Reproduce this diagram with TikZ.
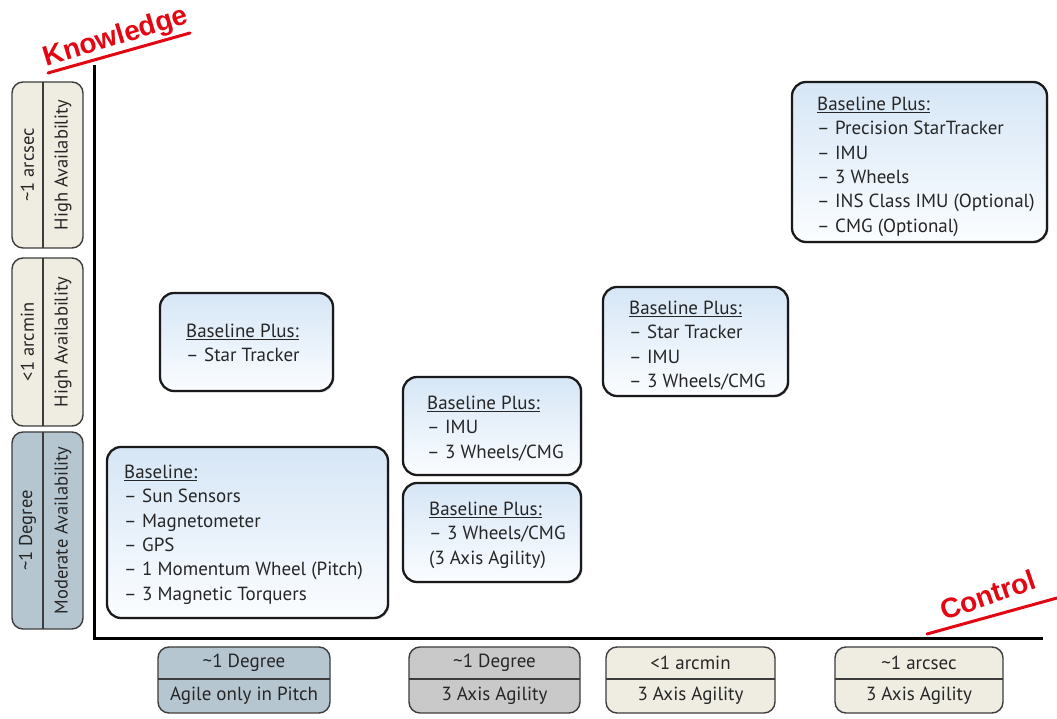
\documentclass[tikz,border=0pt]{standalone}
\usepackage{fontspec}
\setmainfont{PT Sans}
\newfontfamily\redfont{Liberation Sans}
\usetikzlibrary{shadows}
\definecolor{bordc}{HTML}{1A1A1A}
\definecolor{txtc}{HTML}{262626}
\definecolor{beige}{HTML}{EFEDE2}
\definecolor{bluegrey}{HTML}{B6C6D0}
\definecolor{greyfill}{HTML}{C9C9C9}
\definecolor{boxtop}{HTML}{D6E6F6}
\definecolor{boxbot}{HTML}{FBFDFF}
\definecolor{redc}{HTML}{E30613}
\newcommand\itm[1]{\makebox[18pt][l]{–}#1}
\newcommand\hdr[1]{\strut\underline{#1}}
\tikzset{
  axis/.style={line width=3pt, draw=black},
  card/.style={draw=bordc, line width=2.3pt, rounded corners=14pt,
    top color=boxtop, bottom color=boxbot,
    drop shadow={shadow xshift=1.5pt, shadow yshift=-1.5pt, opacity=.25}},
  tag/.style={draw=bordc!85, line width=1.4pt, rounded corners=11pt},
  divider/.style={draw=bordc!85, line width=1.2pt},
  txt/.style={anchor=north west, inner sep=0pt, align=left,
    font=\fontsize{19}{24.4}\selectfont, text=txtc},
  vt/.style={rotate=90, inner sep=0pt, font=\fontsize{18.5}{20}\selectfont, text=txtc},
  ht/.style={inner sep=0pt, font=\fontsize{19}{20}\selectfont, text=txtc},
  redlbl/.style={inner sep=0pt, font=\redfont\bfseries\fontsize{28}{30}\selectfont, text=redc},
  redline/.style={draw=redc, line width=3pt, line cap=round}
}
\begin{document}
\begin{tikzpicture}[x=1pt,y=1pt]
\useasboundingbox (0,0) rectangle (1057,719);
\fill[white] (0,0) rectangle (1057,719);

% axes
\coordinate (origin) at (94,80);
\coordinate (ytop) at (94,654);
\coordinate (xend) at (1043,80);
\draw[axis] (ytop) -- (origin) -- (xend);

% axis labels
\node[redlbl, rotate=17] (know) at (116,681) {Knowledge};
\draw[redline] (48,646) -- (190,686);
\node[redlbl, rotate=19] (ctrl) at (988,124) {Control};
\draw[redline] (927,85) -- (1057,121);

% left tags (knowledge levels)
\draw[tag, fill=beige] (12,637) rectangle (83,471);
\draw[divider] (43,637) -- (43,471);
\node[vt] (l1a) at (27.5,554) {\textasciitilde1 arcsec};
\node[vt] (l1b) at (63,554) {High Availability};

\draw[tag, fill=beige] (12,461) rectangle (83,293);
\draw[divider] (43,461) -- (43,293);
\node[vt] (l2a) at (27.5,377) {<1 arcmin};
\node[vt] (l2b) at (63,377) {High Availability};

\draw[tag, fill=bluegrey] (12,287) rectangle (83,90);
\draw[divider] (43,287) -- (43,90);
\node[vt] (l3a) at (27.5,188.5) {\textasciitilde1 Degree};
\node[vt] (l3b) at (63,188.5) {Moderate Availability};

% bottom tags (control levels)
\draw[tag, fill=bluegrey] (158,72) rectangle (330,6);
\draw[divider] (158,40) -- (330,40);
\node[ht] (b1a) at (244,56) {\textasciitilde1 Degree};
\node[ht] (b1b) at (244,23) {Agile only in Pitch};

\draw[tag, fill=greyfill] (409,72) rectangle (580,6);
\draw[divider] (409,40) -- (580,40);
\node[ht] (b2a) at (494.5,56) {\textasciitilde1 Degree};
\node[ht] (b2b) at (494.5,23) {3 Axis Agility};

\draw[tag, fill=beige] (606,72) rectangle (775,6);
\draw[divider] (606,40) -- (775,40);
\node[ht] (b3a) at (690.5,56) {<1 arcmin};
\node[ht] (b3b) at (690.5,23) {3 Axis Agility};

\draw[tag, fill=beige] (835,72) rectangle (1003,6);
\draw[divider] (835,40) -- (1003,40);
\node[ht] (b4a) at (919,56) {\textasciitilde1 arcsec};
\node[ht] (b4b) at (919,23) {3 Axis Agility};

% cards
\draw[card] (107,272) rectangle (388,101);
\node[txt] (base) at (124,258) {\hdr{Baseline:}\\ \itm{Sun Sensors}\\ \itm{Magnetometer}\\ \itm{GPS}\\ \itm{1 Momentum Wheel (Pitch)}\\ \itm{3 Magnetic Torquers}};

\draw[card] (160,426) rectangle (333,328);
\node[txt] (star) at (186,399) {\hdr{Baseline Plus:}\\ \itm{Star Tracker}};

\draw[card] (403,342) rectangle (581,244);
\node[txt] (imu) at (427,327) {\hdr{Baseline Plus:}\\ \itm{IMU}\\ \itm{3 Wheels/CMG}};

\draw[card] (403,236) rectangle (581,137);
\node[txt] (wheels) at (429,221) {\hdr{Baseline Plus:}\\ \itm{3 Wheels/CMG}\\ (3 Axis Agility)};

\draw[card] (603,432) rectangle (788,323);
\node[txt] (stimu) at (629,422) {\hdr{Baseline Plus:}\\ \itm{Star Tracker}\\ \itm{IMU}\\ \itm{3 Wheels/CMG}};

\draw[card] (792,637) rectangle (1047,477);
\node[txt] (prec) at (817,626) {\hdr{Baseline Plus:}\\ \itm{Precision StarTracker}\\ \itm{IMU}\\ \itm{3 Wheels}\\ \itm{INS Class IMU (Optional)}\\ \itm{CMG (Optional)}};
\end{tikzpicture}
\end{document}
